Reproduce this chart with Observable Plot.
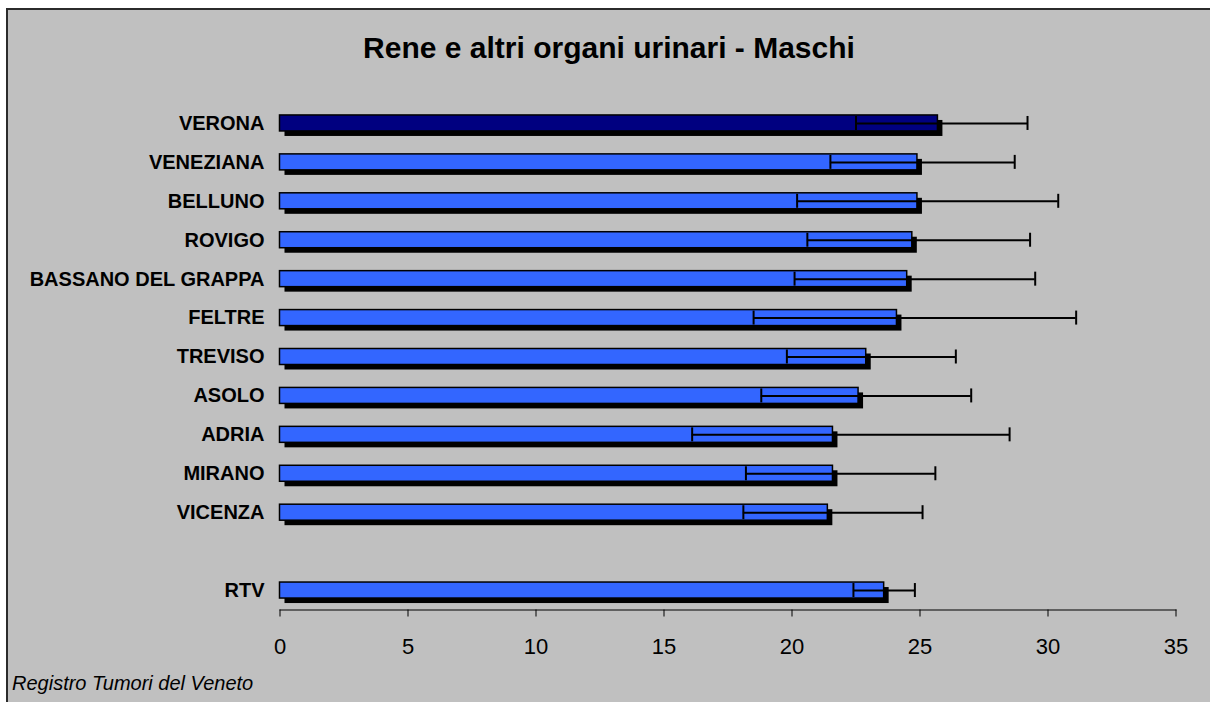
<!DOCTYPE html>
<html>
<head>
<meta charset="utf-8">
<script src="https://cdn.jsdelivr.net/npm/d3@7"></script>
<script src="https://cdn.jsdelivr.net/npm/@observablehq/plot@0.6"></script>
<style>
  html, body { margin: 0; padding: 0; background: #ffffff; width: 1210px; height: 702px; overflow: hidden; }
  #frame { position: absolute; left: 6px; top: 8px; right: 0; bottom: 0; background: #C0C0C0;
           border-top: 2px solid #2b2b2b; border-left: 2px solid #2b2b2b; }
  #title { position: absolute; left: 609px; top: 33px; transform: translateX(-50%); white-space: nowrap;
           font: bold 30px/30px "Liberation Sans", Arial, sans-serif; color: #000; }
  #caption { position: absolute; left: 12px; top: 673px; white-space: nowrap;
             font: italic 20px/20px "Liberation Sans", Arial, sans-serif; color: #000; }
  #chart { position: absolute; left: 0; top: 0; }
  #chart svg { overflow: visible; }
</style>
</head>
<body>
<div id="frame"></div>
<div id="chart"></div>
<div id="title">Rene e altri organi urinari - Maschi</div>
<div id="caption">Registro Tumori del Veneto</div>
<script>
const regions = ["VERONA", "VENEZIANA", "BELLUNO", "ROVIGO", "BASSANO DEL GRAPPA", "FELTRE",
                 "TREVISO", "ASOLO", "ADRIA", "MIRANO", "VICENZA", "RTV"];
const rates = [25.7, 24.9, 24.9, 24.7, 24.5, 24.1, 22.9, 22.6, 21.6, 21.6, 21.4, 23.6];
const lower = [22.5, 21.5, 20.2, 20.6, 20.1, 18.5, 19.8, 18.8, 16.1, 18.2, 18.1, 22.4];
const upper = [29.2, 28.7, 30.4, 29.3, 29.5, 31.1, 26.4, 27.0, 28.5, 25.6, 25.1, 24.8];
const xTicks = [0, 5, 10, 15, 20, 25, 30, 35];
const highlighted = "VERONA";

const data = regions.map((name, i) => ({name, rate: rates[i], lo: lower[i], hi: upper[i]}));
const yDomain = [...regions.slice(0, 11), "", "RTV"];

const font = '"Liberation Sans", Arial, sans-serif';
const pad = 0.589;

const chart = Plot.plot({
  width: 1210,
  height: 702,
  marginLeft: 279.5,
  marginRight: 34.5,
  marginTop: 103.5,
  marginBottom: 92.5,
  style: {background: "transparent", fontFamily: font, color: "#000"},
  x: {domain: [0, 35], label: null},
  y: {type: "band", domain: yDomain, paddingInner: pad, paddingOuter: pad / 2, round: false, label: null},
  marks: [
    Plot.frame({anchor: "bottom", stroke: "#000", strokeWidth: 1}),
    Plot.axisX({ticks: xTicks, tickSize: 7, tickPadding: 21, fontSize: 22, stroke: "#000", fill: "#000", label: null, tickFormat: d => String(d)}),
    Plot.axisY({tickSize: 0, tickPadding: 15.5, fontSize: 20, fontWeight: "bold", fill: "#000", label: null, tickFormat: d => d}),
    Plot.barX(data, {x1: 0, x2: "rate", y: "name", fill: "#000", dx: 5, dy: 5}),
    Plot.barX(data, {x1: 0, x2: "rate", y: "name",
      fill: d => d.name === highlighted ? "#000080" : "#3366FF",
      stroke: "#000", strokeWidth: 1.5}),
    Plot.ruleY(data, {x1: "lo", x2: "hi", y: "name", stroke: "#000", strokeWidth: 2}),
    Plot.tickX(data, {x: "lo", y: "name", stroke: "#000", strokeWidth: 2, insetTop: 1, insetBottom: 1}),
    Plot.tickX(data, {x: "hi", y: "name", stroke: "#000", strokeWidth: 2, insetTop: 1, insetBottom: 1})
  ]
});
document.getElementById("chart").appendChild(chart);
</script>
</body>
</html>
